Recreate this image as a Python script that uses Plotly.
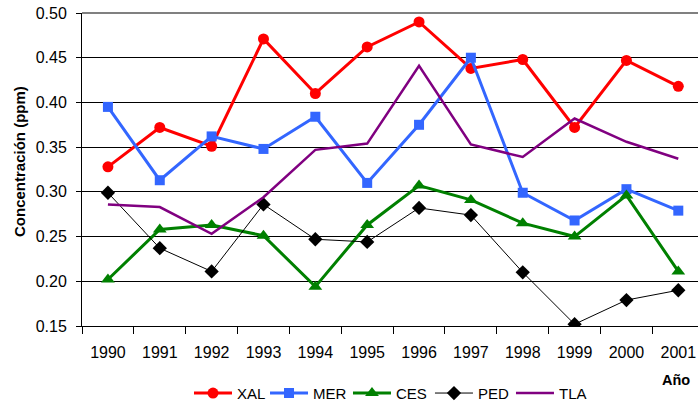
import plotly.graph_objects as go

# Annual mean concentration (ppm) by monitoring station
years = ["1990", "1991", "1992", "1993", "1994", "1995",
         "1996", "1997", "1998", "1999", "2000", "2001"]
xal = [0.328, 0.372, 0.351, 0.471, 0.410, 0.462, 0.490, 0.438, 0.448, 0.372, 0.447, 0.418]
mer = [0.395, 0.313, 0.362, 0.348, 0.384, 0.310, 0.375, 0.450, 0.299, 0.268, 0.303, 0.279]
ces = [0.202, 0.258, 0.263, 0.251, 0.194, 0.263, 0.307, 0.291, 0.265, 0.250, 0.296, 0.211]
ped = [0.299, 0.237, 0.211, 0.286, 0.247, 0.244, 0.282, 0.274, 0.210, 0.152, 0.179, 0.190]
tla = [0.286, 0.283, 0.253, 0.294, 0.347, 0.354, 0.441, 0.353, 0.339, 0.382, 0.356, 0.337]
y_ticks = [0.15, 0.20, 0.25, 0.30, 0.35, 0.40, 0.45, 0.50]

FONT = "Arial, Liberation Sans, sans-serif"

fig = go.Figure()
fig.add_trace(go.Scatter(x=years, y=xal, name="XAL", mode="lines+markers", legend="legend",
                         line=dict(color="#FF0000", width=3),
                         marker=dict(symbol="circle", size=11, color="#FF0000")))
fig.add_trace(go.Scatter(x=years, y=mer, name="MER", mode="lines+markers", legend="legend2",
                         line=dict(color="#3366FF", width=3),
                         marker=dict(symbol="square", size=10, color="#3366FF")))
fig.add_trace(go.Scatter(x=years, y=ces, name="CES", mode="lines+markers", legend="legend3",
                         line=dict(color="#008000", width=3),
                         marker=dict(symbol="triangle-up", size=12, color="#008000")))
fig.add_trace(go.Scatter(x=years, y=ped, name="PED", mode="lines+markers", legend="legend4",
                         line=dict(color="#000000", width=1),
                         marker=dict(symbol="diamond", size=11, color="#000000")))
fig.add_trace(go.Scatter(x=years, y=tla, name="TLA", mode="lines", legend="legend5",
                         line=dict(color="#800080", width=2.5)))


def legend_box(x):
    return dict(orientation="h", x=x, xanchor="left", y=-0.215, yanchor="middle",
                font=dict(size=15), itemwidth=38, bgcolor="rgba(0,0,0,0)")


fig.update_layout(
    width=698, height=404,
    margin=dict(l=82, r=0, t=13, b=78, autoexpand=False),
    paper_bgcolor="white", plot_bgcolor="white",
    font=dict(family=FONT, size=16, color="black"),
    showlegend=True,
    legend=legend_box(0.1737),
    legend2=legend_box(0.2971),
    legend3=legend_box(0.4318),
    legend4=legend_box(0.5649),
    legend5=legend_box(0.6964),
    xaxis=dict(type="category", range=[-0.5, 11.38], tickson="boundaries",
               ticks="outside", ticklen=7, tickcolor="black", automargin=False,
               showline=True, linecolor="black", linewidth=1,
               showgrid=False, tickfont=dict(size=16), ticklabelstandoff=12),
    yaxis=dict(range=[0.15, 0.50], tickvals=y_ticks, tickformat=".2f",
               ticks="outside", ticklen=5, tickcolor="black", automargin=False,
               showline=True, linecolor="black", linewidth=1,
               showgrid=True, gridcolor="black", gridwidth=1,
               zeroline=False, tickfont=dict(size=16), ticklabelstandoff=6),
    shapes=[dict(type="line", xref="paper", yref="paper", x0=0, x1=1, y0=1, y1=1,
                 line=dict(color="#808080", width=2))],
    annotations=[
        dict(text="<b>Concentración (ppm)</b>", xref="paper", yref="paper",
             x=-0.1006, y=0.524, xanchor="center", yanchor="middle",
             textangle=-90, showarrow=False, font=dict(size=15)),
        dict(text="<b>Año</b>", xref="paper", yref="paper",
             x=0.964, y=-0.171, xanchor="center", yanchor="middle",
             showarrow=False, font=dict(size=14.5)),
    ],
)

fig.write_html("out.html")
